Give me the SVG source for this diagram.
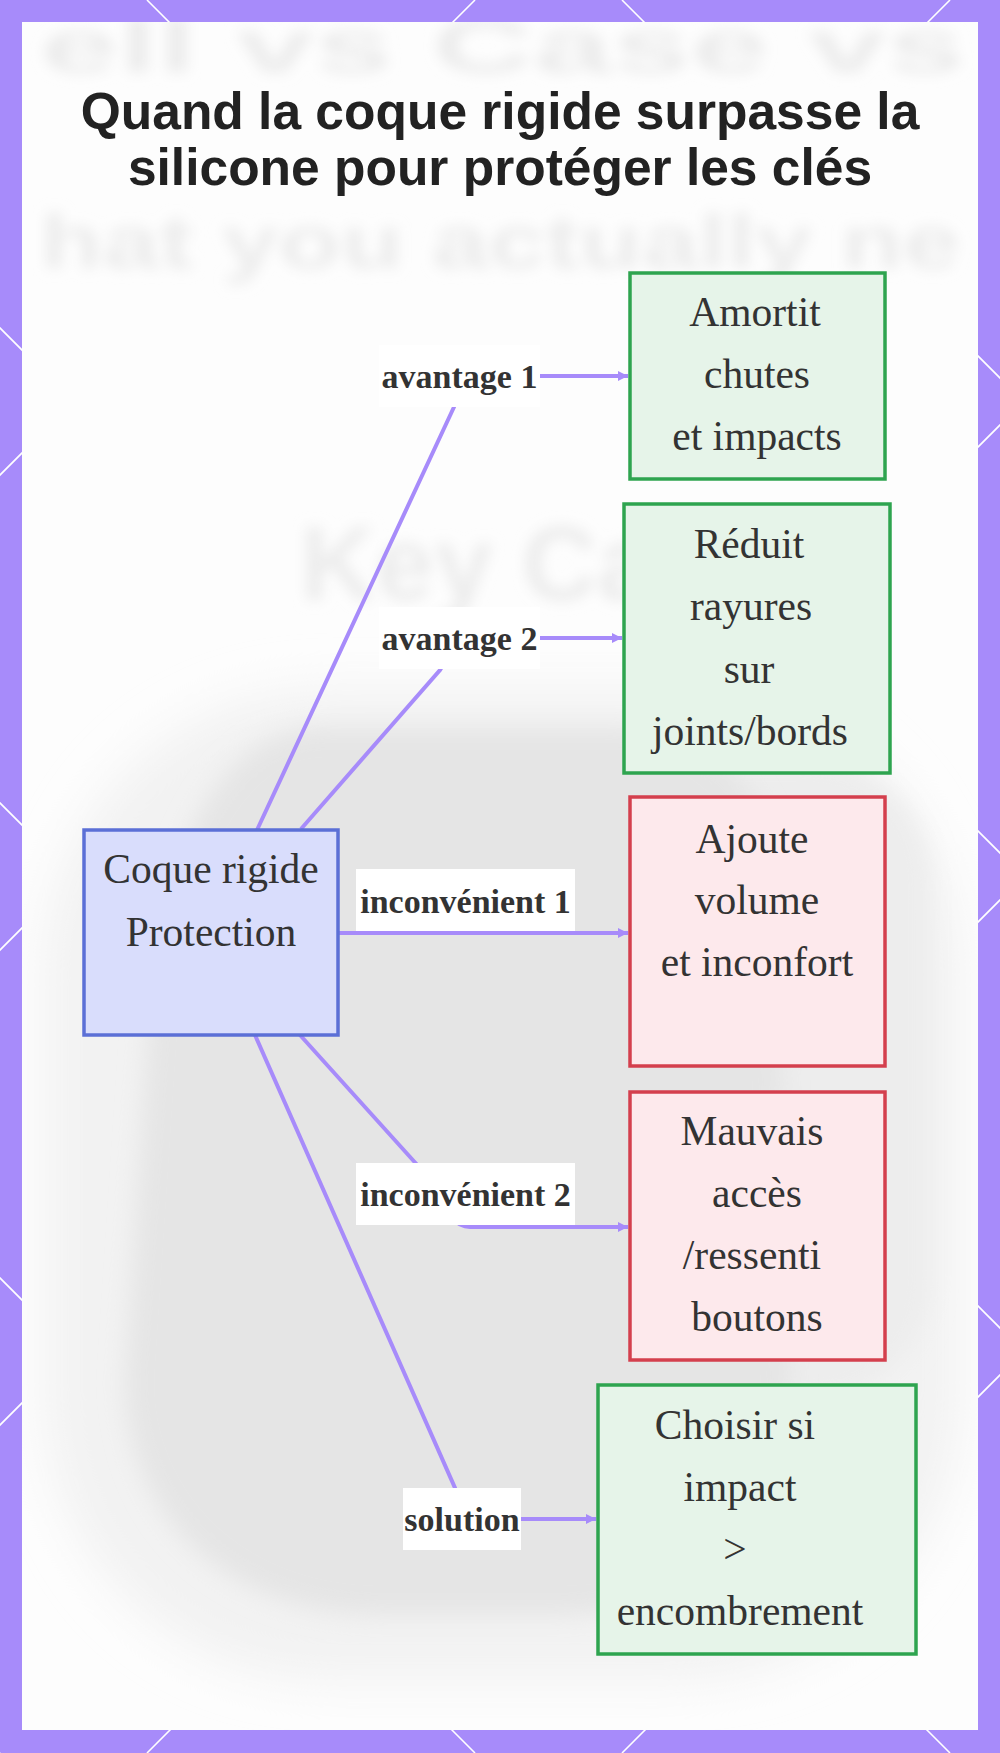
<svg xmlns="http://www.w3.org/2000/svg" width="1000" height="1753" viewBox="0 0 1000 1753">
  <defs>
    <style>
      .frame-line { stroke:#ffffff; stroke-width:1.6; fill:none; }
      .ghost { font-family:"Liberation Sans", Arial, sans-serif; font-weight:bold; fill:#ececec; }
      .title { font-family:"Liberation Sans", Arial, sans-serif; font-weight:bold; font-size:51.5px; fill:#222222; text-anchor:middle; }
      .ntext { font-family:"Liberation Serif", "Times New Roman", serif; font-size:41.5px; fill:#333333; text-anchor:middle; }
      .ltext { font-family:"Liberation Serif", "Times New Roman", serif; font-weight:bold; font-size:34px; fill:#333333; text-anchor:middle; }
      .edge { fill:none; stroke:#a78bfa; stroke-width:4; }
      .lbg { fill:#ffffff; }
      .n-main { fill:#d9ddfc; stroke:#5b6fd6; stroke-width:3.5; }
      .n-good { fill:#e6f4e9; stroke:#2ea44f; stroke-width:3.5; }
      .n-bad { fill:#fde9ec; stroke:#d43f4d; stroke-width:3.5; }
    </style>
    <marker id="arrow" viewBox="0 0 10 10" refX="10" refY="5" markerWidth="10" markerHeight="10" markerUnits="userSpaceOnUse" orient="auto">
      <path d="M0,0 L10,5 L0,10 z" fill="#a78bfa"/>
    </marker>
    <filter id="blurS" x="-20%" y="-20%" width="140%" height="140%"><feGaussianBlur stdDeviation="7"/></filter>
    <filter id="blurM" x="-20%" y="-20%" width="140%" height="140%"><feGaussianBlur stdDeviation="12"/></filter>
    <filter id="blurL" x="-30%" y="-30%" width="160%" height="160%"><feGaussianBlur stdDeviation="24"/></filter>
    <clipPath id="cardClip"><rect x="22" y="22" width="956" height="1708"/></clipPath>
  </defs>

  <!-- purple frame with diamond pattern -->
  <rect x="0" y="0" width="1000" height="1753" fill="#a78bfa"/>
  <g class="frame-line">
    <line x1="-1753" y1="0" x2="0" y2="1753"/>
    <line x1="-1278" y1="0" x2="475" y2="1753"/>
    <line x1="-803" y1="0" x2="950" y2="1753"/>
    <line x1="-328" y1="0" x2="1425" y2="1753"/>
    <line x1="147" y1="0" x2="1900" y2="1753"/>
    <line x1="622" y1="0" x2="2375" y2="1753"/>
    <line x1="475" y1="0" x2="-1278" y2="1753"/>
    <line x1="950" y1="0" x2="-803" y2="1753"/>
    <line x1="1425" y1="0" x2="-328" y2="1753"/>
    <line x1="1900" y1="0" x2="147" y2="1753"/>
    <line x1="2375" y1="0" x2="622" y2="1753"/>
    <line x1="2850" y1="0" x2="1097" y2="1753"/>
  </g>

  <!-- white card -->
  <rect x="22" y="22" width="956" height="1708" fill="#fdfdfd"/>

  <!-- blurred background photo -->
  <g clip-path="url(#cardClip)">
    <rect x="45" y="690" width="915" height="990" rx="280" fill="#f2f2f2" filter="url(#blurL)"/>
    <rect x="600" y="760" width="330" height="640" rx="120" fill="#ededed" filter="url(#blurM)"/>
    <path d="M320,728 L620,728 C700,728 760,780 775,850 L790,1400 C790,1540 700,1615 560,1615 L380,1615 C230,1615 125,1520 125,1380 L150,1000 C165,830 230,728 320,728 Z" fill="#e5e5e5" filter="url(#blurM)"/>
    <g filter="url(#blurS)">
      <text class="ghost" x="40" y="72" font-size="76" textLength="925" lengthAdjust="spacingAndGlyphs">ell vs Case vs</text>
      <text class="ghost" x="40" y="268" font-size="76" textLength="920" lengthAdjust="spacingAndGlyphs">hat you actually ne</text>
      <text class="ghost" x="300" y="600" font-size="105">Key Ca</text>
    </g>
  </g>

  <!-- title -->
  <g id="title">
    <text class="title" x="500" y="129">Quand la coque rigide surpasse la</text>
    <text class="title" x="500" y="185">silicone pour protéger les clés</text>
  </g>

  <!-- connectors -->
  <g id="connectors">
    <path id="e1" class="edge" d="M257,830 L454,407 L459,376 L628,376" marker-end="url(#arrow)"/>
    <path id="e2" class="edge" d="M301,829 L440,670 L459,638 L622,638" marker-end="url(#arrow)"/>
    <path id="e3" class="edge" d="M338,933 L628,933" marker-end="url(#arrow)"/>
    <path id="e4" class="edge" d="M300,1035 L420,1168 C440,1190 445,1227 470,1227 L628,1227" marker-end="url(#arrow)"/>
    <path id="e5" class="edge" d="M255,1035 L455,1488 L462,1519 L596,1519" marker-end="url(#arrow)"/>

    <g id="label-e1">
      <rect class="lbg" x="379" y="345" width="161" height="62"/>
      <text class="ltext" x="459.5" y="388">avantage 1</text>
    </g>
    <g id="label-e2">
      <rect class="lbg" x="379" y="607" width="161" height="62"/>
      <text class="ltext" x="459.5" y="650">avantage 2</text>
    </g>
    <g id="label-e3">
      <rect class="lbg" x="356" y="869" width="219" height="62"/>
      <text class="ltext" x="465.5" y="913">inconvénient 1</text>
    </g>
    <g id="label-e4">
      <rect class="lbg" x="356" y="1163" width="219" height="62"/>
      <text class="ltext" x="465.5" y="1206">inconvénient 2</text>
    </g>
    <g id="label-e5">
      <rect class="lbg" x="403" y="1488" width="118" height="62"/>
      <text class="ltext" x="462" y="1531">solution</text>
    </g>
  </g>

  <!-- nodes -->
  <g id="node-main">
    <rect class="n-main" x="84" y="830" width="254" height="205"/>
    <text class="ntext" x="211" y="883">Coque rigide</text>
    <text class="ntext" x="211" y="946">Protection</text>
  </g>

  <g id="node-amortit">
    <rect class="n-good" x="630" y="273" width="255" height="206"/>
    <text class="ntext" x="755" y="326">Amortit</text>
    <text class="ntext" x="757" y="388">chutes</text>
    <text class="ntext" x="757" y="450">et impacts</text>
  </g>

  <g id="node-reduit">
    <rect class="n-good" x="624" y="504" width="266" height="269"/>
    <text class="ntext" x="749" y="558">Réduit</text>
    <text class="ntext" x="751" y="620">rayures</text>
    <text class="ntext" x="749" y="683">sur</text>
    <text class="ntext" x="750" y="745">joints/bords</text>
  </g>

  <g id="node-ajoute">
    <rect class="n-bad" x="630" y="797" width="255" height="269"/>
    <text class="ntext" x="752" y="853">Ajoute</text>
    <text class="ntext" x="757" y="914">volume</text>
    <text class="ntext" x="757" y="976">et inconfort</text>
  </g>

  <g id="node-mauvais">
    <rect class="n-bad" x="630" y="1092" width="255" height="268"/>
    <text class="ntext" x="752" y="1145">Mauvais</text>
    <text class="ntext" x="757" y="1207">accès</text>
    <text class="ntext" x="752" y="1269">/ressenti</text>
    <text class="ntext" x="757" y="1331">boutons</text>
  </g>

  <g id="node-choisir">
    <rect class="n-good" x="598" y="1385" width="318" height="269"/>
    <text class="ntext" x="735" y="1439">Choisir si</text>
    <text class="ntext" x="740" y="1501">impact</text>
    <text class="ntext" x="735" y="1563">&gt;</text>
    <text class="ntext" x="740" y="1625">encombrement</text>
  </g>
</svg>
